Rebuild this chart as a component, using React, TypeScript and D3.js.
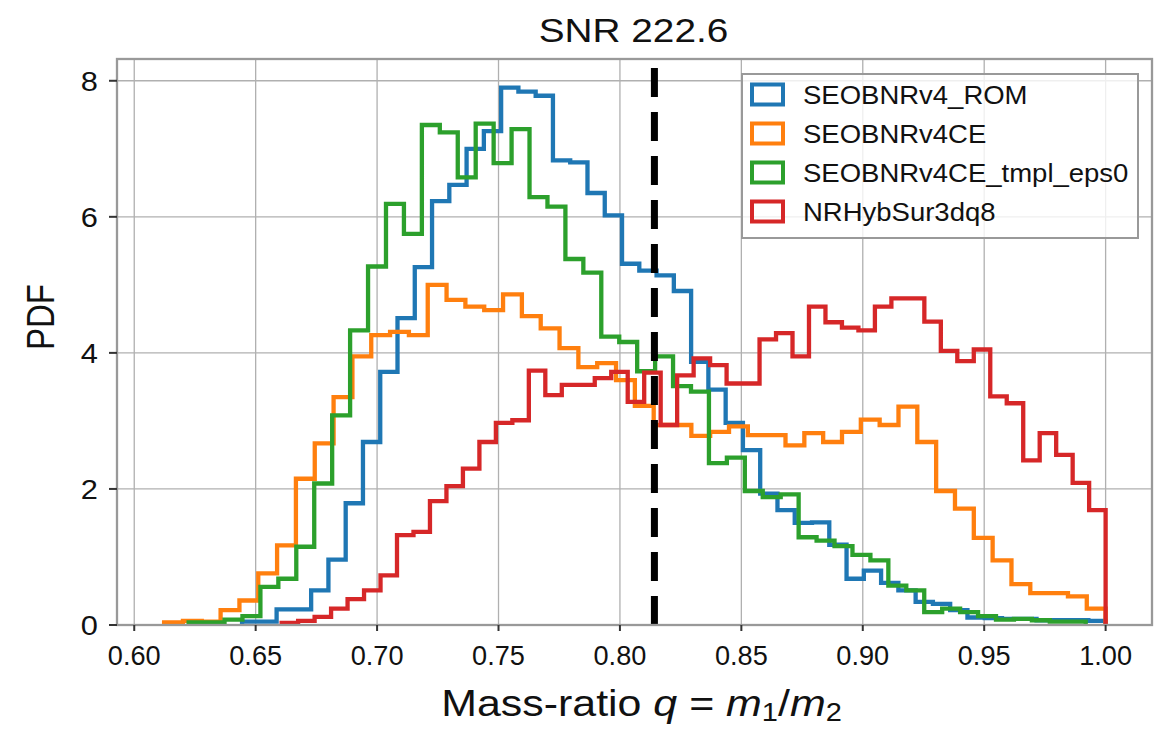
import React from "react";
import * as d3 from "d3";

// ---------------- data ----------------
const SERIES_NAMES = ["SEOBNRv4_ROM", "SEOBNRv4CE", "SEOBNRv4CE_tmpl_eps0", "NRHybSur3dq8"];

// histogram bin ranges [lo, hi] (50 equal bins each)
const ROM_RANGE = [0.6444, 1.0];
const CE_RANGE = [0.6123, 1.0];
const EPS0_RANGE = [0.6224, 0.9918];
const NRHYB_RANGE = [0.6607, 1.0];

const ROM_PDF = [
  0.05, 0.05, 0.23, 0.23, 0.51, 0.96, 1.79, 2.69, 3.72, 4.51,
  5.26, 6.23, 6.47, 7.0, 7.26, 7.9, 7.84, 7.78, 6.83, 6.8,
  6.35, 6.02, 5.31, 5.21, 5.14, 4.91, 3.87, 3.46, 2.97, 2.57,
  1.93, 1.69, 1.5, 1.51, 1.18, 0.68, 0.8, 0.62, 0.51, 0.34,
  0.31, 0.22, 0.11, 0.1, 0.09, 0.09, 0.07, 0.07, 0.07, 0.06,
];
const CE_PDF = [
  0.04, 0.06, 0.05, 0.22, 0.36, 0.76, 1.17, 2.15, 2.67, 3.35,
  3.95, 4.26, 4.31, 4.26, 5.0, 4.78, 4.68, 4.63, 4.86, 4.54,
  4.36, 4.07, 3.79, 3.85, 3.6, 3.22, 2.94, 2.94, 2.78, 2.84,
  2.92, 2.79, 2.79, 2.64, 2.82, 2.69, 2.84, 3.02, 2.94, 3.21,
  2.69, 1.97, 1.71, 1.28, 0.95, 0.6, 0.47, 0.47, 0.42, 0.24,
];
const EPS0_PDF = [
  0.04, 0.04, 0.08, 0.13, 0.56, 0.68, 1.15, 2.08, 3.08, 4.33,
  5.27, 6.19, 5.75, 7.35, 7.24, 6.58, 7.37, 6.79, 7.29, 6.29,
  6.15, 5.38, 5.18, 4.24, 4.16, 3.73, 3.95, 3.51, 3.43, 2.38,
  2.46, 1.97, 1.88, 1.92, 1.29, 1.24, 1.16, 1.03, 0.95, 0.58,
  0.51, 0.19, 0.24, 0.19, 0.13, 0.08, 0.09, 0.07, 0.05, 0.05,
];
const NRHYB_PDF = [
  0.03, 0.06, 0.12, 0.24, 0.38, 0.51, 0.73, 1.32, 1.37, 1.82,
  2.04, 2.3, 2.69, 2.97, 3.01, 3.74, 3.38, 3.53, 3.53, 3.63,
  3.72, 3.28, 3.71, 2.94, 3.67, 3.92, 3.82, 3.55, 3.55, 4.2,
  4.29, 3.95, 4.68, 4.45, 4.37, 4.33, 4.68, 4.8, 4.8, 4.46,
  4.03, 3.88, 4.05, 3.36, 3.26, 2.42, 2.82, 2.5, 2.09, 1.69,
];

const INJECTED_Q = 0.8142;
const X_TICKS = [0.6, 0.65, 0.7, 0.75, 0.8, 0.85, 0.9, 0.95, 1.0];
const Y_TICKS = [0, 2, 4, 6, 8];
const X_DOMAIN = [0.5929, 1.0191];
const Y_DOMAIN = [0, 8.32];
const TITLE = "SNR 222.6";

// ---------------- style ----------------
const COLORS = ["#1f77b4", "#ff7f0e", "#2ca02c", "#d62728"];
const FONT = "'Liberation Sans', Arial, Helvetica, sans-serif";

const M = { left: 117, right: 1152, top: 59, bottom: 625 };

function histPoints(range: number[], values: number[]) {
  const n = values.length;
  const [lo, hi] = range;
  const w = (hi - lo) / n;
  const pts: [number, number][] = [[lo, 0]];
  values.forEach((v, i) => {
    pts.push([lo + i * w, v]);
    pts.push([lo + (i + 1) * w, v]);
  });
  pts.push([hi, 0]);
  return pts;
}

export default function App() {
  const x = d3.scaleLinear().domain(X_DOMAIN).range([M.left, M.right]);
  const y = d3.scaleLinear().domain(Y_DOMAIN).range([M.bottom, M.top]);
  const line = d3
    .line<[number, number]>()
    .x((d) => x(d[0]))
    .y((d) => y(d[1]));

  const series = [
    { name: SERIES_NAMES[0], range: ROM_RANGE, values: ROM_PDF },
    { name: SERIES_NAMES[1], range: CE_RANGE, values: CE_PDF },
    { name: SERIES_NAMES[2], range: EPS0_RANGE, values: EPS0_PDF },
    { name: SERIES_NAMES[3], range: NRHYB_RANGE, values: NRHYB_PDF },
  ];

  const tickFont = 28;
  const tickSX = 0.97;
  const legX = 742;
  const legY = 74;
  const legW = 396;
  const legH = 164;
  const rowH = 39;

  return (
    <svg
      width={1163}
      height={730}
      style={{ position: "absolute", left: 0, top: 0, background: "#fff" }}
      fontFamily={FONT}
    >
      <rect x={0} y={0} width={1163} height={730} fill="#fff" />
      {/* grid */}
      <g stroke="#b0b0b0" strokeWidth={1.3}>
        {X_TICKS.map((t) => (
          <line key={"gx" + t} x1={x(t)} x2={x(t)} y1={M.top} y2={M.bottom} />
        ))}
        {Y_TICKS.map((t) => (
          <line key={"gy" + t} x1={M.left} x2={M.right} y1={y(t)} y2={y(t)} />
        ))}
      </g>

      {/* histograms */}
      <g fill="none" strokeWidth={4.3} strokeLinejoin="miter">
        {series.map((s, i) => (
          <path key={s.name} d={line(histPoints(s.range, s.values)) || ""} stroke={COLORS[i]} />
        ))}
      </g>

      {/* injected value */}
      <line
        x1={x(INJECTED_Q)}
        x2={x(INJECTED_Q)}
        y1={M.bottom}
        y2={M.top}
        stroke="#000"
        strokeWidth={7}
        strokeDasharray="29 15"
      />

      {/* spines */}
      <rect
        x={M.left}
        y={M.top}
        width={M.right - M.left}
        height={M.bottom - M.top}
        fill="none"
        stroke="#999"
        strokeWidth={2.3}
      />

      {/* ticks */}
      <g stroke="#333" strokeWidth={2}>
        {X_TICKS.map((t) => (
          <line key={"tx" + t} x1={x(t)} x2={x(t)} y1={M.bottom} y2={M.bottom + 6} />
        ))}
        {Y_TICKS.map((t) => (
          <line key={"ty" + t} x1={M.left - 8} x2={M.left} y1={y(t)} y2={y(t)} />
        ))}
      </g>
      <g fontSize={tickFont} fill="#111">
        {X_TICKS.map((t) => (
          <text key={"lx" + t} transform={`translate(${x(t)},${665}) scale(${tickSX},1)`} textAnchor="middle">
            {d3.format(".2f")(t)}
          </text>
        ))}
        {Y_TICKS.map((t) => (
          <text
            key={"ly" + t}
            transform={`translate(${M.left - 19},${y(t) + tickFont * 0.36}) scale(${1.1},1)`}
            textAnchor="end"
          >
            {t}
          </text>
        ))}
      </g>

      {/* title */}
      <text
        transform={`translate(${(M.left + M.right) / 2 - 1},${42}) scale(1.14,1)`}
        textAnchor="middle"
        fontSize={34}
        fill="#111"
      >
        {TITLE}
      </text>

      {/* axis labels */}
      <text
        transform={`translate(${(M.left + M.right) / 2 + 7},${716}) scale(1.16,1)`}
        textAnchor="middle"
        fontSize={37}
        fill="#111"
      >
        Mass-ratio <tspan fontStyle="italic">q</tspan>
        <tspan> = </tspan>
        <tspan fontStyle="italic">m</tspan>
        <tspan fontSize={25} dy={5}>1</tspan>
        <tspan dy={-5}>/</tspan>
        <tspan fontStyle="italic">m</tspan>
        <tspan fontSize={25} dy={5}>2</tspan>
      </text>
      <text
        transform={`translate(${54},${317}) rotate(-90) scale(1,1.2)`}
        textAnchor="middle"
        fontSize={33}
        fill="#111"
      >
        PDF
      </text>

      {/* legend */}
      <g>
        <rect
          x={legX}
          y={legY}
          width={legW}
          height={legH}
          fill="#fff"
          fillOpacity={0.8}
          stroke="#999"
          strokeWidth={2}
        />
        {series.map((s, i) => {
          const cy = legY + 20.5 + i * rowH;
          return (
            <g key={"leg" + s.name}>
              <rect x={legX + 10} y={cy - 10} width={31} height={20} fill="none" stroke={COLORS[i]} strokeWidth={4} />
              <text
                transform={`translate(${legX + 61},${cy + 9.5}) scale(1.1,1)`}
                fontSize={25}
                fill="#111"
              >
                {s.name}
              </text>
            </g>
          );
        })}
      </g>
    </svg>
  );
}
